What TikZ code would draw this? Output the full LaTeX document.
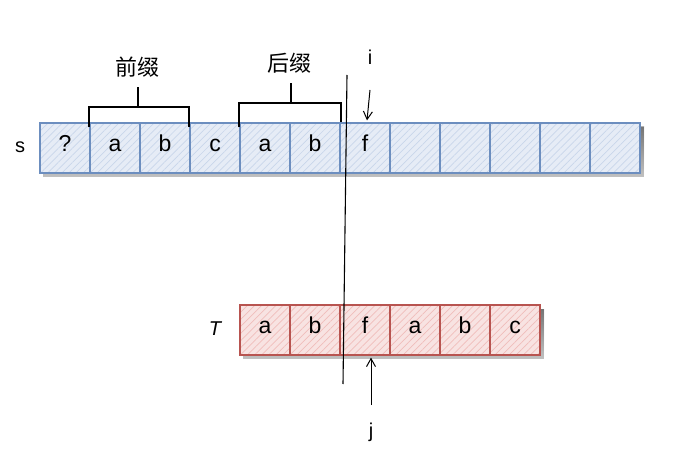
\documentclass[tikz,border=0pt]{standalone}
\usepackage{fontspec}
\setmainfont{Liberation Sans}
\newfontfamily\cjk{Noto Sans CJK SC}
\usetikzlibrary{patterns.meta,arrows.meta,calc}
\definecolor{sfill}{HTML}{E6ECF6}
\definecolor{sline}{HTML}{6C8EBF}
\definecolor{shatch}{HTML}{C9D6EA}
\definecolor{tfill}{HTML}{F8E3E2}
\definecolor{tline}{HTML}{B85450}
\definecolor{thatch}{HTML}{F0BDBB}
\definecolor{shade}{HTML}{E4E4E4}
\tikzset{
  cellbase/.style={minimum size=50pt, inner sep=0pt, line width=1.2pt, text height=0.72em, text depth=0pt, font=\fontsize{23}{23}\selectfont},
  scell/.style={cellbase, draw=sline, preaction={fill=sfill}, preaction={pattern={Lines[angle=45,distance=5pt,line width=0.7pt]}, pattern color=shatch}},
  tcell/.style={cellbase, draw=tline, preaction={fill=tfill}, preaction={pattern={Lines[angle=45,distance=5pt,line width=0.7pt]}, pattern color=thatch}},
  brace/.style={line width=2pt, line join=miter},
  lbl/.style={inner sep=0pt, font=\cjk\fontsize{22}{22}\selectfont},
  ptr/.style={line width=1pt, -{Straight Barb[length=8pt,width=9pt]}},
  idx/.style={inner sep=0pt, font=\fontsize{20}{20}\selectfont},
}
\begin{document}
\begin{tikzpicture}[x=1pt,y=-1pt]
\useasboundingbox (0,0) rectangle (677,454);
% soft shadows
\fill[shade, opacity=0.6] (43,127) rectangle (644,177);
\fill[shade, opacity=0.6] (243,309) rectangle (544,359);
% S row
\foreach \k/\c in {0/?,1/a,2/b,3/c,4/a,5/b,6/f,7/,8/,9/,10/,11/}{
  \node[scell] (s\k) at ({65+50*\k},148) {\c};
}
% T row
\foreach \k/\c in {0/a,1/b,2/f,3/a,4/b,5/c}{
  \node[tcell] (t\k) at ({265+50*\k},330) {\c};
}
\node[idx] (slab) at (20,147) {s};
\node[idx, font=\itshape\fontsize{20}{20}\selectfont] (tlab) at (215,329) {T};
% prefix bracket
\coordinate (p1) at ($(s1.north west)+(0,5)$);
\coordinate (p2) at ($(s2.north east)+(-2,5)$);
\draw[brace] (p1) -- ++(0,-20) -| (p2);
\coordinate (pm) at ($(s1.north east)+(-3,-15)$);
\node[lbl] (pre) at (137,67) {前缀};
\draw[brace] (pm) -- ++(0,-20);
% suffix bracket
\coordinate (q1) at ($(s4.north west)+(0,5)$);
\coordinate (q2) at (s5.north east);
\draw[brace] (q1) -- ++(0,-24) -| (q2);
\coordinate (qm) at ($(s4.north east)+(0,-19)$);
\node[lbl] (suf) at (289,63) {后缀};
\draw[brace] (qm) -- ++(0,-20);
% cut line
\coordinate (cuttop) at (347,75);
\coordinate (cutbot) at (343,384);
\draw[line width=1.1pt] (cuttop) -- (cutbot);
% pointers
\node[idx] (i) at (370,57) {i};
\coordinate (istart) at (370,90);
\draw[ptr] (istart) -- ($(s6.north)+(2,-2)$);
\node[idx] (j) at (371,432) {j};
\coordinate (jstart) at (371,405);
\draw[ptr] (jstart) -- ($(t2.south)+(6,2)$);
\end{tikzpicture}
\end{document}
